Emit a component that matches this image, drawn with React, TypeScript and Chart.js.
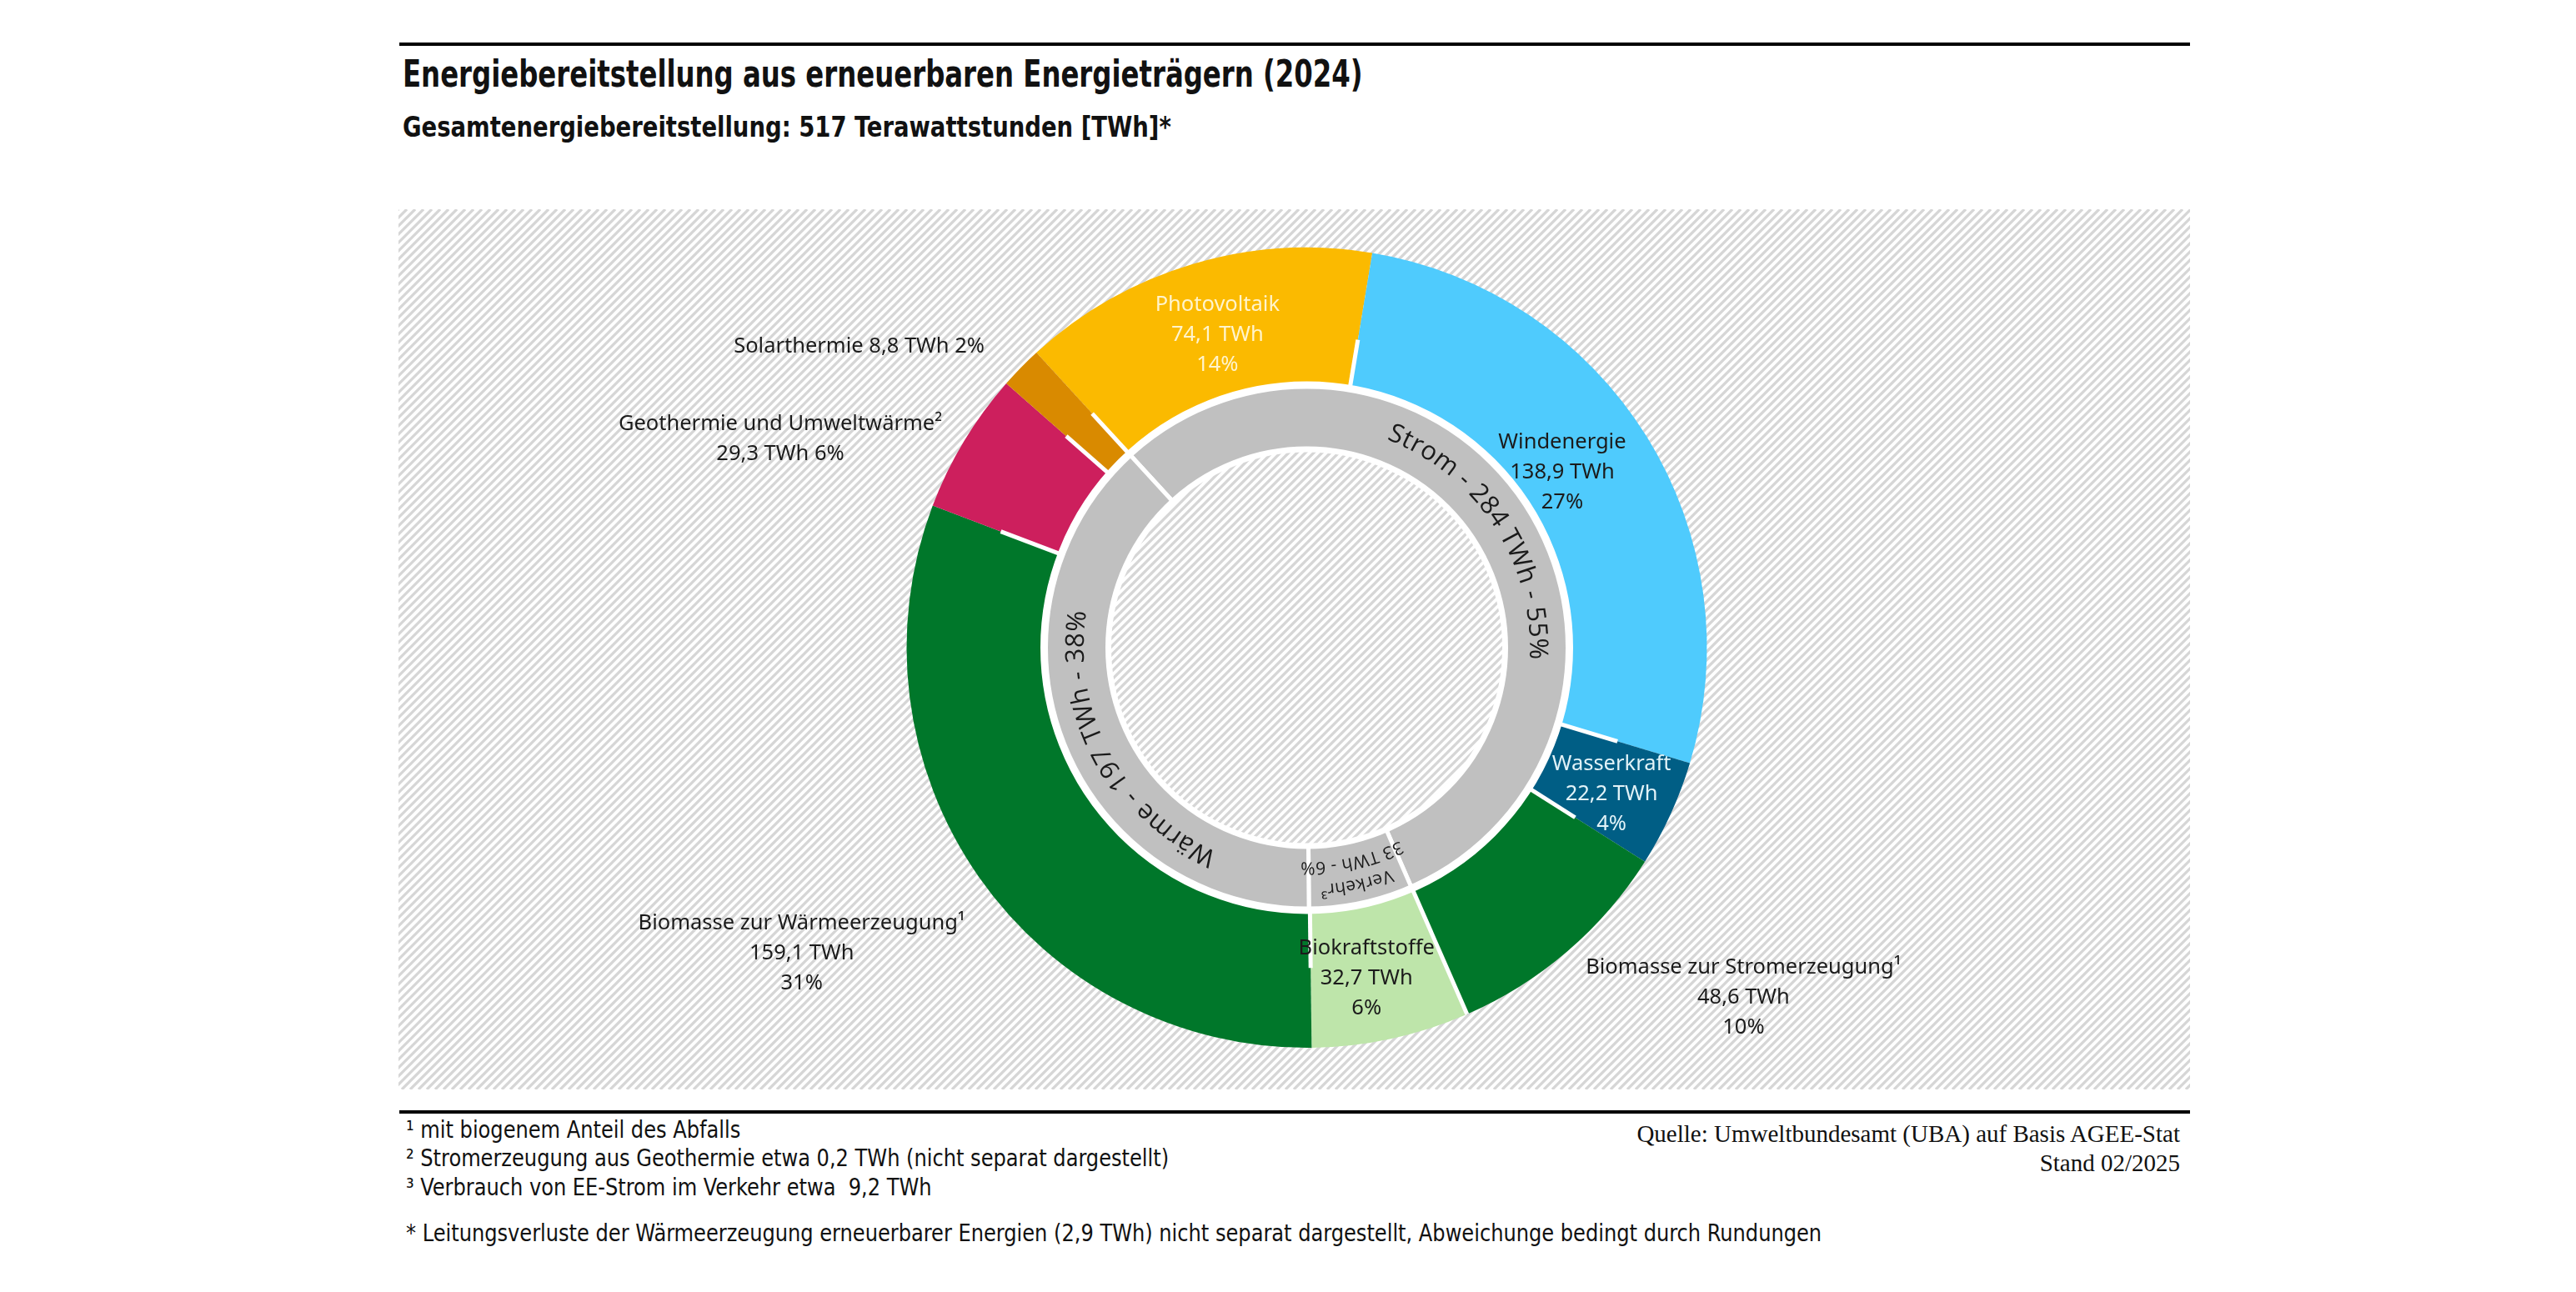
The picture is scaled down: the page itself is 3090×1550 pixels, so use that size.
import React, { useEffect, useRef } from "react";
import { Chart, registerables } from "chart.js";

Chart.register(...registerables);

// ---------- data ----------
const sourceLabels = [
  "Photovoltaik",
  "Windenergie",
  "Wasserkraft",
  "Biomasse zur Stromerzeugung¹",
  "Biokraftstoffe",
  "Biomasse zur Wärmeerzeugung¹",
  "Geothermie und Umweltwärme²",
  "Solarthermie",
];
const sourceValues = [74.1, 138.9, 22.2, 48.6, 32.7, 159.1, 29.3, 8.8];
const sourceShares = [14, 27, 4, 10, 6, 31, 6, 2];

const sectorLabels = ["Strom", "Verkehr³", "Wärme"];
const sectorValues = [284, 33, 197];
const sectorShares = [55, 6, 38];

const footnotes = [
  "¹ mit biogenem Anteil des Abfalls",
  "² Stromerzeugung aus Geothermie etwa 0,2 TWh (nicht separat dargestellt)",
  "³ Verbrauch von EE-Strom im Verkehr etwa  9,2 TWh",
];
const starNote =
  "* Leitungsverluste der Wärmeerzeugung erneuerbarer Energien (2,9 TWh) nicht separat dargestellt, Abweichunge bedingt durch Rundungen";
const sourceLines = ["Quelle: Umweltbundesamt (UBA) auf Basis AGEE-Stat", "Stand 02/2025"];

// ---------- styles ----------
const sourceColors = ["#FBBA00", "#4FCBFD", "#005E85", "#00772A", "#BEE5AA", "#00772A", "#CD1F5D", "#D98A00"];
const sectorColor = "#C0C0C0";
// label layout: mode = number of lines, dx/dy offset from arc centroid
const labelLayout = [
  { mode: 3, dx: 6, dy: 6, color: "#FFF4CC" },
  { mode: 3, dx: -31, dy: 0, color: "#1B1B1B" },
  { mode: 3, dx: 4, dy: 11, color: "#E2F3F8" },
  { mode: 3, dx: 265, dy: 118, color: "#1B1B1B" },
  { mode: 3, dx: -12, dy: 8, color: "#1B1B1B" },
  { mode: 3, dx: -280, dy: 139, color: "#1B1B1B" },
  { mode: 2, dx: -291, dy: -45, color: "#1B1B1B" },
  { mode: 1, dx: -253, dy: -83, color: "#1B1B1B" },
];
// how far the white separator at each segment's start reaches into the ring
const separatorReach = [0.4, 0.36, 0.45, 0.4, 1, 0.42, 0.47, 0.42];
const sectorAngleShift = [0, 0, -7];

const fmt = (v: number) => v.toFixed(1).replace(".", ",");
const DEG = Math.PI / 180;

function drawArcText(
  ctx: CanvasRenderingContext2D,
  text: string,
  cx: number,
  cy: number,
  r: number,
  mid: number,
  spacing: number
) {
  const chars = Array.from(text);
  const widths = chars.map((c) => ctx.measureText(c).width);
  const total = widths.reduce((a, b) => a + b, 0) + spacing * (chars.length - 1);
  let ang = mid - total / (2 * r);
  chars.forEach((c, i) => {
    const a = ang + widths[i] / 2 / r;
    ctx.save();
    ctx.translate(cx + r * Math.cos(a), cy + r * Math.sin(a));
    ctx.rotate(a + Math.PI / 2);
    ctx.fillText(c, 0, 0);
    ctx.restore();
    ang += (widths[i] + spacing) / r;
  });
}

const decorPlugin = {
  id: "decor",
  beforeDraw(chart: any) {
    const { ctx, width, height } = chart;
    ctx.save();
    ctx.fillStyle = "#FFFFFF";
    ctx.fillRect(0, 0, width, height);
    ctx.strokeStyle = "#D6D6D6";
    ctx.lineWidth = 3.2;
    ctx.beginPath();
    for (let k = -height; k < width + height; k += 10) {
      ctx.moveTo(k, height);
      ctx.lineTo(k + height, 0);
    }
    ctx.stroke();
    ctx.restore();
  },
  afterDatasetsDraw(chart: any) {
    const ctx: CanvasRenderingContext2D = chart.ctx;
    const outer = chart.getDatasetMeta(0).data;
    const inner = chart.getDatasetMeta(1).data;
    ctx.save();
    // partial white separators in the outer ring
    ctx.strokeStyle = "#FFFFFF";
    ctx.lineWidth = 5;
    outer.forEach((arc: any, i: number) => {
      const p = arc.getProps(["x", "y", "startAngle", "innerRadius", "outerRadius"], true);
      const r0 = p.innerRadius;
      const r1 = r0 + (p.outerRadius - r0) * separatorReach[i];
      ctx.beginPath();
      ctx.moveTo(p.x + r0 * Math.cos(p.startAngle), p.y + r0 * Math.sin(p.startAngle));
      ctx.lineTo(p.x + r1 * Math.cos(p.startAngle), p.y + r1 * Math.sin(p.startAngle));
      ctx.stroke();
    });
    // white rims of the sector ring
    const q = inner[0].getProps(["x", "y", "innerRadius", "outerRadius"], true);
    ctx.lineWidth = 9;
    ctx.beginPath();
    ctx.arc(q.x, q.y, q.outerRadius, 0, Math.PI * 2);
    ctx.stroke();
    ctx.lineWidth = 7;
    ctx.beginPath();
    ctx.arc(q.x, q.y, q.innerRadius, 0, Math.PI * 2);
    ctx.stroke();

    // labels of the outer ring
    ctx.font = '25.5px "Noto Sans"';
    ctx.textAlign = "center";
    ctx.textBaseline = "middle";
    outer.forEach((arc: any, i: number) => {
      const c = arc.tooltipPosition(true);
      const L = labelLayout[i];
      const x = c.x + L.dx;
      const y = c.y + L.dy;
      ctx.fillStyle = L.color;
      const v = `${fmt(sourceValues[i])} TWh`;
      const s = `${sourceShares[i]}%`;
      if (L.mode === 3) {
        ctx.fillText(sourceLabels[i], x, y - 36);
        ctx.fillText(v, x, y);
        ctx.fillText(s, x, y + 36);
      } else if (L.mode === 2) {
        ctx.fillText(sourceLabels[i], x, y - 18);
        ctx.fillText(`${v} ${s}`, x, y + 18);
      } else {
        ctx.fillText(`${sourceLabels[i]} ${v} ${s}`, x, y);
      }
    });

    // curved sector labels
    ctx.fillStyle = "#1A1A1A";
    inner.forEach((arc: any, i: number) => {
      const p = arc.getProps(["x", "y", "startAngle", "endAngle", "innerRadius", "outerRadius"], true);
      const mid = (p.startAngle + p.endAngle) / 2 + sectorAngleShift[i] * DEG;
      const rm = (p.innerRadius + p.outerRadius) / 2;
      if (i === 1) {
        ctx.font = '21px "Open Sans"';
        drawArcText(ctx, sectorLabels[i], p.x, p.y, rm + 14, mid, 0.5);
        drawArcText(ctx, `${sectorValues[i]} TWh - ${sectorShares[i]}%`, p.x, p.y, rm - 13, mid, 0.5);
      } else {
        ctx.font = '31px "Open Sans"';
        drawArcText(
          ctx,
          `${sectorLabels[i]} - ${sectorValues[i]} TWh - ${sectorShares[i]}%`,
          p.x,
          p.y,
          rm,
          mid,
          1
        );
      }
    });
    ctx.restore();
  },
};

const CW = 2149;
const CH = 1056;

function DonutChart() {
  const ref = useRef<HTMLCanvasElement | null>(null);
  useEffect(() => {
    if (!ref.current) return;
    const chart = new Chart(ref.current, {
      type: "doughnut",
      data: {
        labels: sourceLabels,
        datasets: [
          {
            data: sourceValues,
            backgroundColor: sourceColors,
            borderWidth: 0,
            weight: 165,
          } as any,
          {
            data: sectorValues,
            backgroundColor: sectorValues.map(() => sectorColor),
            borderColor: "#FFFFFF",
            borderWidth: 5,
            weight: 77,
          } as any,
        ],
      },
      options: {
        responsive: false,
        animation: false,
        devicePixelRatio: 1,
        rotation: -42.5,
        radius: 480,
        cutout: "49.583%",
        layout: { padding: { left: 30, right: 0, top: 0, bottom: 4 } },
        plugins: {
          legend: { display: false },
          tooltip: { enabled: false },
          title: { display: false },
        },
      } as any,
      plugins: [decorPlugin],
    });
    return () => chart.destroy();
  }, []);
  return <canvas ref={ref} width={CW} height={CH} style={{ width: CW, height: CH, display: "block" }} />;
}

const O = 8; // body margin

export default function App() {
  const abs = (x: number, y: number, extra: React.CSSProperties = {}): React.CSSProperties => ({
    position: "absolute",
    left: x - O,
    top: y - O,
    whiteSpace: "pre",
    margin: 0,
    ...extra,
  });
  const narrow = '"Liberation Sans Narrow", "DejaVu Sans Condensed", "Noto Sans", sans-serif';
  return (
    <div style={{ position: "relative", width: 3074, height: 1534, background: "#FFFFFF", overflow: "hidden" }}>
      <div style={abs(479, 51, { width: 2148, height: 4, background: "#000" })} />
      <div
        style={abs(483, 89 - 22, {
          fontFamily: narrow,
          fontWeight: 700,
          fontSize: 44,
          lineHeight: "44px",
          color: "#111",
          transform: "scaleX(0.817)",
          transformOrigin: "left center",
        })}
      >
        Energiebereitstellung aus erneuerbaren Energieträgern (2024)
      </div>
      <div
        style={abs(483, 152 - 17, {
          fontFamily: narrow,
          fontWeight: 700,
          fontSize: 34,
          lineHeight: "34px",
          color: "#111",
          transform: "scaleX(0.898)",
          transformOrigin: "left center",
        })}
      >
        Gesamtenergiebereitstellung: 517 Terawattstunden [TWh]*
      </div>
      <div style={abs(478, 251)}>
        <DonutChart />
      </div>
      <div style={abs(479, 1332, { width: 2148, height: 4, background: "#000" })} />
      {footnotes.map((t, i) => (
        <div
          key={i}
          style={abs(487, [1356, 1390, 1425][i] - 14, {
            fontFamily: narrow,
            fontSize: 28,
            lineHeight: "28px",
            color: "#111",
            transform: "scaleX(0.957)",
            transformOrigin: "left center",
          })}
        >
          {t}
        </div>
      ))}
      <div
        style={abs(487, 1480 - 14, {
          fontFamily: narrow,
          fontSize: 28,
          lineHeight: "28px",
          color: "#111",
          transform: "scaleX(0.957)",
          transformOrigin: "left center",
        })}
      >
        {starNote}
      </div>
      {sourceLines.map((t, i) => (
        <div
          key={"s" + i}
          style={{
            position: "absolute",
            right: 3090 - 2615 - O,
            top: [1360, 1395][i] - 15 - O,
            fontFamily: '"Liberation Serif", serif',
            fontSize: 29,
            lineHeight: "30px",
            color: "#111",
            whiteSpace: "pre",
          }}
        >
          {t}
        </div>
      ))}
    </div>
  );
}
